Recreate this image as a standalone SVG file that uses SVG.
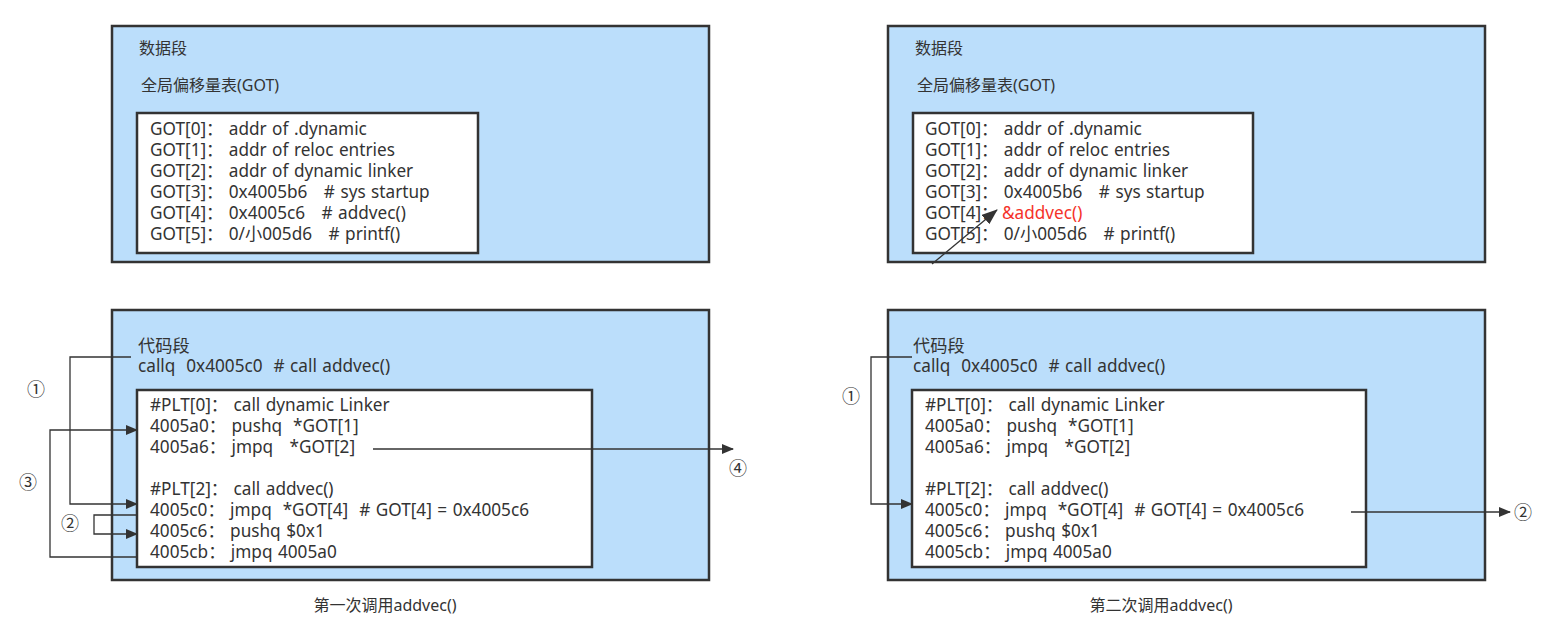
<svg xmlns="http://www.w3.org/2000/svg" width="1550" height="621" viewBox="0 0 1550 621">
<style>
.seg{fill:#bbdefb;stroke:#333;stroke-width:2.5}
.tbl{fill:#fff;stroke:#333;stroke-width:2.5}
text{font-family:"Noto Sans","Noto Sans CJK SC",sans-serif;fill:#333;font-size:17.2px;word-spacing:1px;white-space:pre}
.sm{font-size:16px;word-spacing:0}
.num{font-family:"Noto Sans CJK SC",sans-serif;font-size:18px;text-anchor:middle}
.red{fill:#f5332a}
.cn{fill:none;stroke:#333;stroke-width:1.3}
</style>
<defs>
<marker id="ah" markerWidth="12" markerHeight="10" refX="11" refY="5" orient="auto" markerUnits="userSpaceOnUse"><path d="M0,0 L12,5 L0,10 Z" fill="#333"/></marker>
<marker id="ah2" markerWidth="16" markerHeight="12" refX="15" refY="6" orient="auto" markerUnits="userSpaceOnUse"><path d="M0,0 L16,6 L0,12 Z" fill="#333"/></marker>
</defs>
<rect width="1550" height="621" fill="#fff"/>

<g id="left-data">
<rect class="seg" x="112" y="26" width="597" height="236"/>
<text class="sm" x="139" y="54">数据段</text>
<text class="sm" x="141" y="91">全局偏移量表(GOT)</text>
<rect class="tbl" x="137" y="113" width="341" height="140"/>
<text x="150" y="135">GOT[0]： addr of .dynamic</text>
<text x="150" y="156">GOT[1]： addr of reloc entries</text>
<text x="150" y="177">GOT[2]： addr of dynamic linker</text>
<text x="150" y="198">GOT[3]： 0x4005b6   # sys startup</text>
<text x="150" y="219">GOT[4]： 0x4005c6   # addvec()</text>
<text x="150" y="240">GOT[5]： 0/小005d6   # printf()</text>
</g>

<g id="left-code">
<rect class="seg" x="112" y="310" width="597" height="270"/>
<text x="138" y="352">代码段</text>
<text x="138" y="372">callq  0x4005c0  # call addvec()</text>
<rect class="tbl" x="137" y="390" width="455" height="177"/>
<text x="150" y="411">#PLT[0]： call dynamic Linker</text>
<text x="150" y="432">4005a0： pushq  *GOT[1]</text>
<text x="150" y="453">4005a6： jmpq   *GOT[2]</text>
<text x="150" y="495">#PLT[2]： call addvec()</text>
<text x="150" y="516">4005c0： jmpq  *GOT[4]  # GOT[4] = 0x4005c6</text>
<text x="150" y="537">4005c6： pushq $0x1</text>
<text x="150" y="558">4005cb： jmpq 4005a0</text>
</g>

<g id="right-data">
<rect class="seg" x="888" y="26" width="597" height="236"/>
<text class="sm" x="915" y="54">数据段</text>
<text class="sm" x="917" y="91">全局偏移量表(GOT)</text>
<rect class="tbl" x="913" y="113" width="340" height="140"/>
<text x="925" y="135">GOT[0]： addr of .dynamic</text>
<text x="925" y="156">GOT[1]： addr of reloc entries</text>
<text x="925" y="177">GOT[2]： addr of dynamic linker</text>
<text x="925" y="198">GOT[3]： 0x4005b6   # sys startup</text>
<text x="925" y="219">GOT[4]： <tspan class="red" x="1002">&amp;addvec()</tspan></text>
<text x="925" y="240">GOT[5]： 0/小005d6   # printf()</text>
</g>

<g id="right-code">
<rect class="seg" x="888" y="310" width="597" height="270"/>
<text x="913" y="352">代码段</text>
<text x="913" y="372">callq  0x4005c0  # call addvec()</text>
<rect class="tbl" x="912" y="390" width="454" height="177"/>
<text x="925" y="411">#PLT[0]： call dynamic Linker</text>
<text x="925" y="432">4005a0： pushq  *GOT[1]</text>
<text x="925" y="453">4005a6： jmpq   *GOT[2]</text>
<text x="925" y="495">#PLT[2]： call addvec()</text>
<text x="925" y="516">4005c0： jmpq  *GOT[4]  # GOT[4] = 0x4005c6</text>
<text x="925" y="537">4005c6： pushq $0x1</text>
<text x="925" y="558">4005cb： jmpq 4005a0</text>
</g>

<g id="connectors">
<polyline class="cn" points="131,357 70,357 70,504 137,504" marker-end="url(#ah)"/>
<polyline class="cn" points="137,515 94,515 94,534 137,534" marker-end="url(#ah)"/>
<polyline class="cn" points="137,557 50,557 50,430 137,430" marker-end="url(#ah)"/>
<line class="cn" x1="373" y1="449" x2="733" y2="449" marker-end="url(#ah)"/>
<polyline class="cn" points="912,357 871,357 871,504 912,504" marker-end="url(#ah)"/>
<line class="cn" x1="1351" y1="512" x2="1510" y2="512" marker-end="url(#ah)"/>
<line class="cn" x1="932" y1="264" x2="997" y2="210" stroke-width="2.4" marker-end="url(#ah2)"/>
</g>

<g id="labels">
<text class="num" x="36" y="396">①</text>
<text class="num" x="28" y="489">③</text>
<text class="num" x="70" y="530">②</text>
<text class="num" x="738" y="475">④</text>
<text class="num" x="851" y="403">①</text>
<text class="num" x="1523" y="519">②</text>
<text class="sm" x="385" y="611" text-anchor="middle">第一次调用addvec()</text>
<text class="sm" x="1161" y="611" text-anchor="middle">第二次调用addvec()</text>
</g>
</svg>
